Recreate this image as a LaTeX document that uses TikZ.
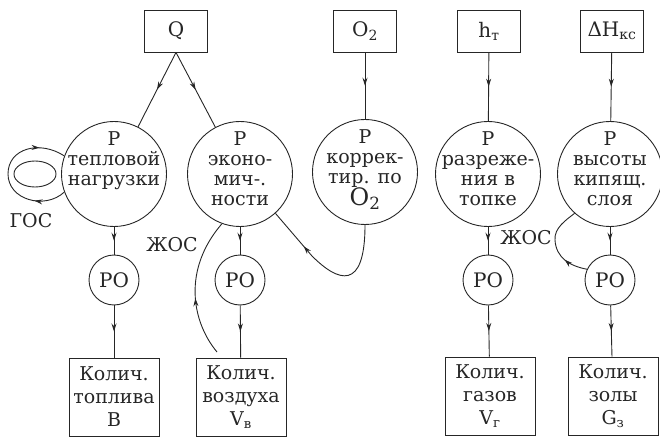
\documentclass[tikz,border=0pt]{standalone}
\usepackage{fontspec}
\setmainfont{DejaVu Serif}
\usetikzlibrary{arrows.meta,decorations.markings,positioning}

\tikzset{
  ink/.style={draw=black!85, line width=0.9pt},
  tip/.style={Stealth[length=8pt,width=5pt]},
  reg/.style={ink, circle, minimum size=105pt, inner sep=0pt},
  regtext/.style={align=center, inner sep=0pt, font=\fontsize{19}{20}\selectfont},
  ro/.style={ink, circle, minimum size=50pt, inner sep=0pt, font=\fontsize{20}{20}\selectfont},
  sigbox/.style={ink, minimum width=63pt, minimum height=42pt, inner sep=0pt, font=\fontsize{20}{20}\selectfont},
  qtybox/.style={ink, minimum width=90pt, minimum height=78pt, inner sep=0pt, align=center, font=\fontsize{19}{23}\selectfont},
  fblabel/.style={inner sep=0pt, font=\fontsize{19}{19}\selectfont},
  midarrow/.style={ink, postaction={decorate},
    decoration={markings, mark=at position #1 with {\arrow{Stealth[length=8pt,width=5pt]}}}},
  midarrow/.default=0.5,
  looparrows/.style={ink, postaction={decorate},
    decoration={markings,
      mark=at position 0.22 with {\arrow{Stealth[length=8pt,width=5pt]}},
      mark=at position 0.82 with {\arrow{Stealth[length=8pt,width=5pt]}}}}
}

\begin{document}
\begin{tikzpicture}[x=1pt, y=-1pt, text=black!85]
    \useasboundingbox (0,0) rectangle (660,438);

    % Signals
    \node[sigbox] (q)  at (176,31) {Q};
    \node[sigbox] (o2) at (365,31) {O\textsubscript{2}};
    \node[sigbox] (h)  at (489,31) {h\textsubscript{т}};
    \node[sigbox] (dh) at (612,31) {ΔH\textsubscript{кс}};

    % Regulators
    \node[reg] (r1) at (114,174) {};
    \node[reg] (r2) at (240,174) {};
    \node[reg] (r3) at (365,172) {};
    \node[reg] (r4) at (488,174) {};
    \node[reg] (r5) at (610,174) {};
    \node[regtext, below=10pt of r1.north] (t1) {Р\\тепловой\\нагрузки};
    \node[regtext, below=10pt of r2.north] (t2) {Р\\эконо-\\мич-.\\ности};
    \node[regtext, below=10pt of r3.north] (t3) {Р\\коррек-\\тир. по\\{\fontsize{24}{20}\selectfont O\textsubscript{2}}};
    \node[regtext, below=10pt of r4.north] (t4) {Р\\разреже-\\ния в\\топке};
    \node[regtext, below=10pt of r5.north] (t5) {Р\\высоты\\кипящ.\\слоя};

    % Regulating organs
    \node[ro] (ro1) at (114,280) {РО};
    \node[ro] (ro2) at (240,280) {РО};
    \node[ro] (ro4) at (488,280) {РО};
    \node[ro] (ro5) at (610,280) {РО};

    % Quantities
    \node[qtybox] (b1) at (114,397) {Колич.\\топлива\\B};
    \node[qtybox] (b2) at (241,397) {Колич.\\воздуха\\V\textsubscript{в}};
    \node[qtybox] (b4) at (490,396) {Колич.\\газов\\V\textsubscript{г}};
    \node[qtybox] (b5) at (613,396) {Колич.\\золы\\G\textsubscript{з}};

    % Direct links
    \draw[midarrow] (q.south) -- (r1);
    \draw[midarrow] (q.south) -- (r2);
    \foreach \s/\r in {o2/r3, h/r4, dh/r5}
        \draw[midarrow] (\s) -- (\r);
    \foreach \r/\o/\b in {r1/ro1/b1, r2/ro2/b2, r4/ro4/b4, r5/ro5/b5} {
        \draw[midarrow] (\r) -- (\o);
        \draw[midarrow] (\o) -- (\b);
    }

    % Feedback
    \draw[ink] (35,174) ellipse [x radius=21, y radius=13];
    \draw[looparrows] (r1.200) .. controls (45,210) and (8,200) .. (8,174)
        .. controls (8,148) and (40,140) .. (r1.160);
    \node[fblabel] (gos) at (31,221) {ГОС};

    \coordinate (j1) at (217,352);
    \draw[midarrow=0.42] (j1) .. controls (192,322) and (182,270) .. (r2.250);
    \node[fblabel] (jos1) at (172,245) {ЖОС};

    \draw[midarrow=0.72] (r3.south) .. controls (365,292) and (338,282) .. (312,256) -- (r2.312);

    \draw[midarrow=0.3] (ro5.155) .. controls (570,266) and (556,258) .. (555,240)
        .. controls (554,228) and (566,220) .. (r5.228);
    \node[fblabel] (jos2) at (526,238) {ЖОС};
\end{tikzpicture}
\end{document}
